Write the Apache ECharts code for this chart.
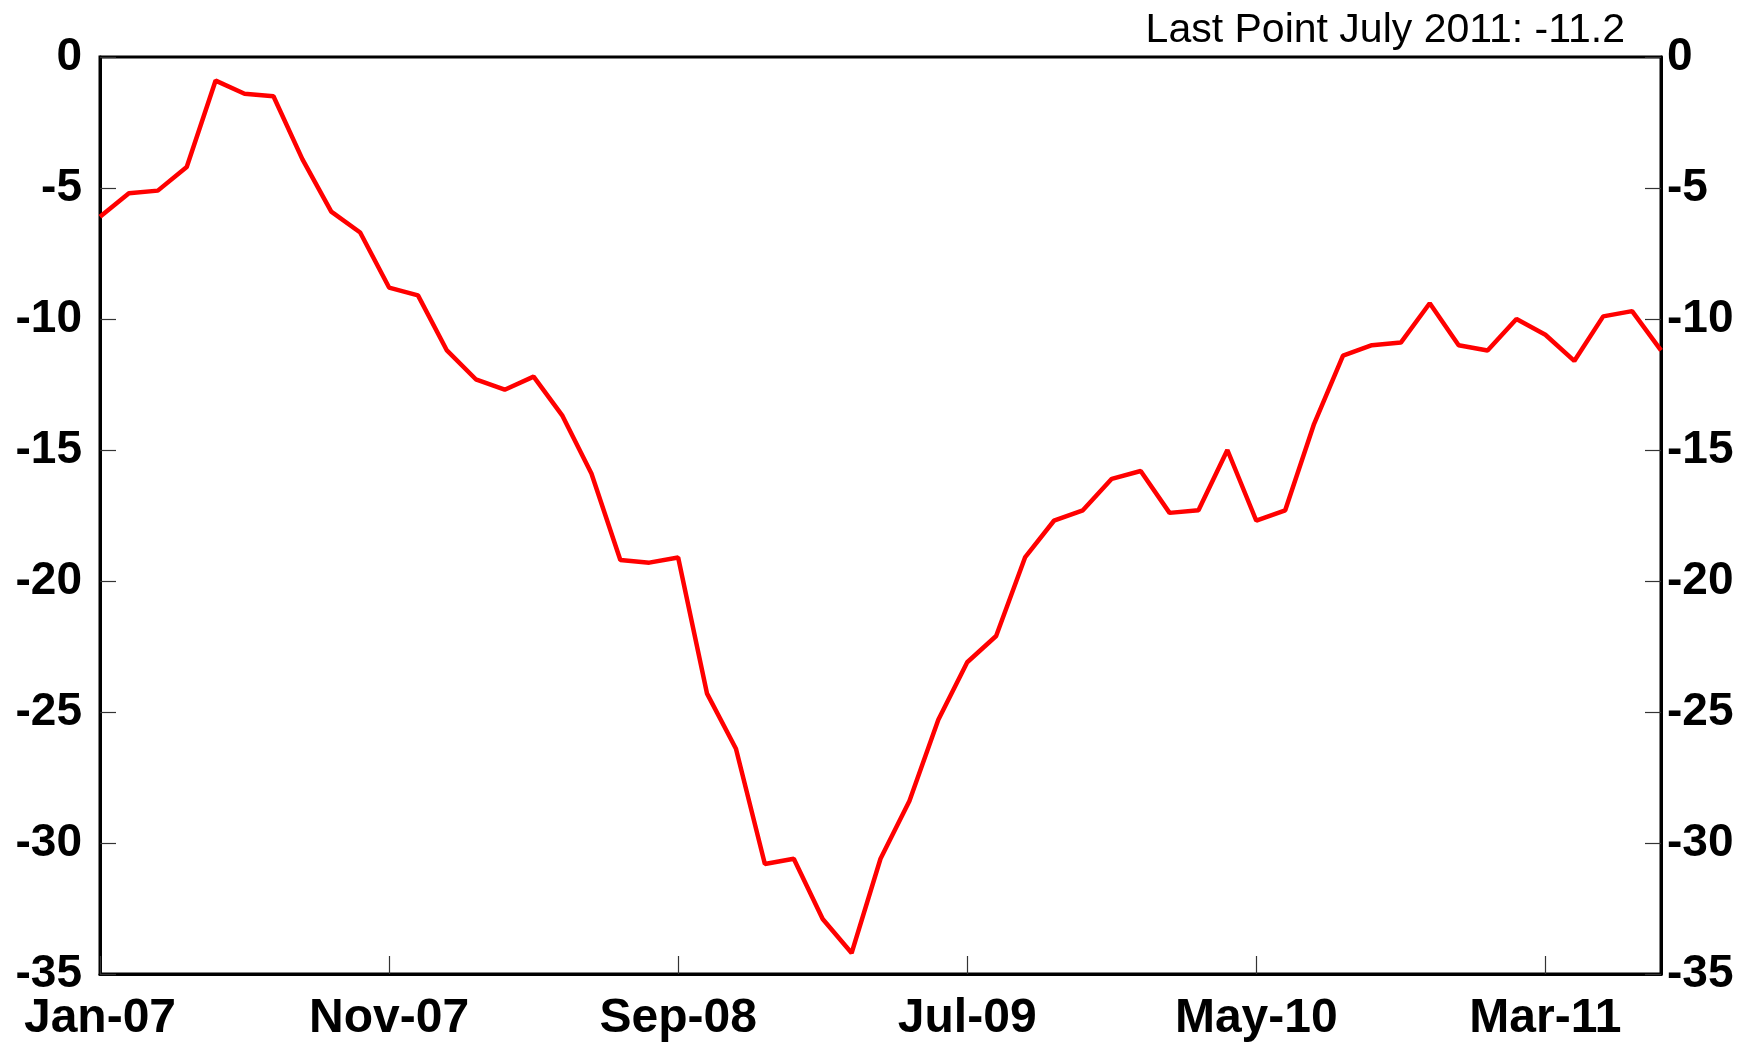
<!DOCTYPE html>
<html>
<head>
<meta charset="utf-8">
<script src="https://cdn.jsdelivr.net/npm/echarts@6/dist/echarts.min.js"></script>
<style>
html,body{margin:0;padding:0;background:#fff;}
#c{width:1752px;height:1043px;}
</style>
</head>
<body>
<div id="c"></div>
<script>
const months = ['Jan','Feb','Mar','Apr','May','Jun','Jul','Aug','Sep','Oct','Nov','Dec'];
const categories = [];
for (let y = 7; y <= 11; y++) {
  for (let m = 0; m < 12; m++) {
    if (y === 11 && m > 6) break;
    categories.push(months[m] + '-' + String(y).padStart(2, '0'));
  }
}
const values = [
  -6.1, -5.2, -5.1, -4.2, -0.9, -1.4, -1.5, -3.9, -5.9, -6.7, -8.8, -9.1,
  -11.2, -12.3, -12.7, -12.2, -13.7, -15.9, -19.2, -19.3, -19.1, -24.3, -26.4, -30.8,
  -30.6, -32.9, -34.2, -30.6, -28.4, -25.3, -23.1, -22.1, -19.1, -17.7, -17.3, -16.1,
  -15.8, -17.4, -17.3, -15.0, -17.7, -17.3, -14.0, -11.4, -11.0, -10.9, -9.4, -11.0,
  -11.2, -10.0, -10.6, -11.6, -9.9, -9.7, -11.2
];
const yTicks = { min: -35, max: 0, interval: 5 };
const titleText = 'Last Point July 2011: -11.2';

const FONT = '"Liberation Sans", Arial, sans-serif';
const chart = echarts.init(document.getElementById('c'));
const yAxisBase = {
  type: 'value',
  min: yTicks.min, max: yTicks.max, interval: yTicks.interval,
  splitLine: { show: false },
  axisLine: { show: true, onZero: false, lineStyle: { color: '#000', width: 3 } },
  axisTick: { show: true, inside: true, length: 16, lineStyle: { color: '#333', width: 1.2 } },
  axisLabel: { fontFamily: FONT, fontWeight: 'bold', fontSize: 46, color: '#000' }
};
chart.setOption({
  animation: false,
  backgroundColor: '#fff',
  title: {
    text: titleText, right: 122, top: 5,
    textStyle: { fontFamily: FONT, fontWeight: 'normal', fontSize: 41, color: '#000' }
  },
  grid: { left: 100, right: 91, top: 57, bottom: 67, show: true, borderColor: '#000', borderWidth: 3, containLabel: false },
  xAxis: {
    type: 'category', data: categories, boundaryGap: false,
    axisLine: { show: true, onZero: false, lineStyle: { color: '#000', width: 3 } },
    axisTick: { show: true, inside: true, length: 18, interval: 9, lineStyle: { color: '#333', width: 1.2 } },
    axisLabel: { interval: 9, margin: 21, fontFamily: FONT, fontWeight: 'bold', fontSize: 48, color: '#000' },
    splitLine: { show: false }
  },
  yAxis: [
    Object.assign({}, yAxisBase, { position: 'left', axisLabel: Object.assign({}, yAxisBase.axisLabel, { margin: 18 }) }),
    Object.assign({}, yAxisBase, { position: 'right', axisLabel: Object.assign({}, yAxisBase.axisLabel, { margin: 6 }) })
  ],
  series: [{
    type: 'line', data: values, yAxisIndex: 0,
    showSymbol: false, symbol: 'none',
    lineStyle: { color: '#ff0000', width: 4.5 }
  }]
});
</script>
</body>
</html>
